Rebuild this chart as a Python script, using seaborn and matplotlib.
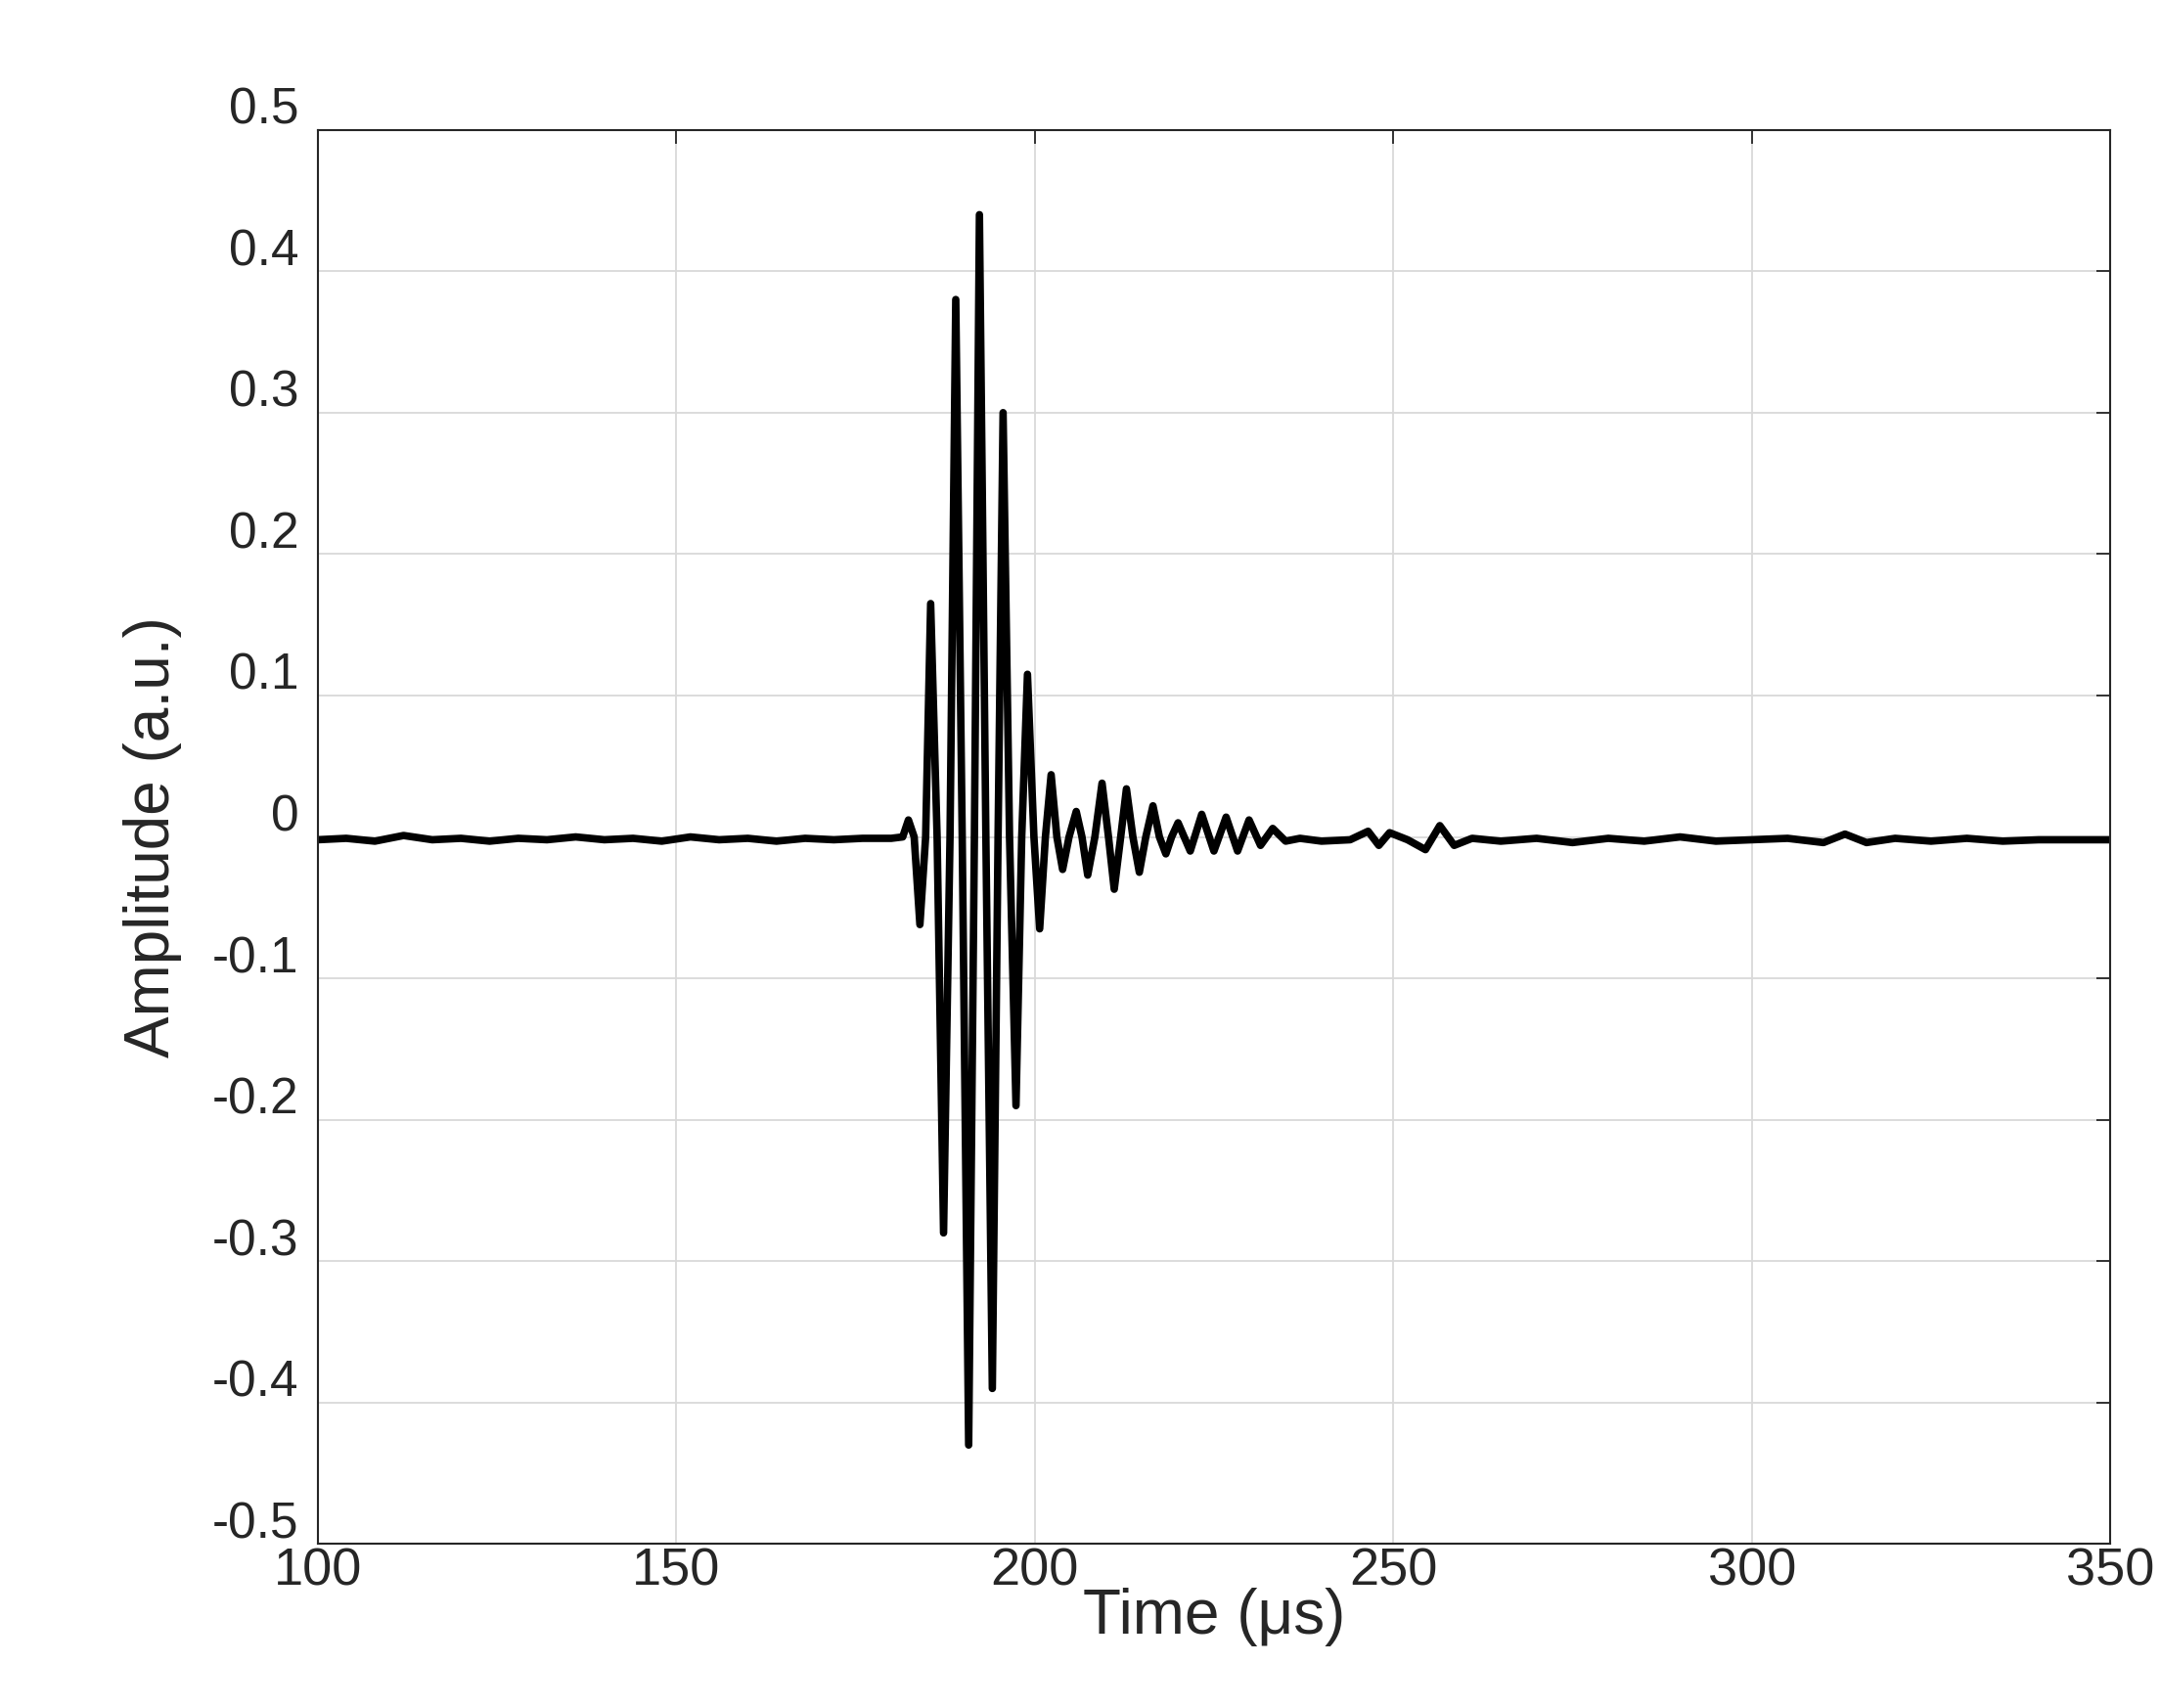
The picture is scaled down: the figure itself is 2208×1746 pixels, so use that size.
import matplotlib
matplotlib.use("Agg")
import matplotlib.pyplot as plt
import matplotlib.transforms as mtransforms
import seaborn as sns

time_us = [100, 104, 108, 112, 116, 120, 124, 128, 132, 136, 140, 144, 148, 152, 156,
           160, 164, 168, 172, 176, 180, 181.6, 182.4, 183.2, 184.0, 184.8, 185.5, 186.4,
           187.3, 188.2, 189.0, 189.9, 190.8, 191.6, 192.3, 193.2, 194.1, 194.9, 195.6,
           196.5, 197.4, 198.2, 199.0, 199.9, 200.7, 201.5, 202.3, 203.1, 203.9, 204.8,
           205.8, 206.6, 207.4, 208.4, 209.4, 210.3, 211.1, 212.0, 212.8, 213.7, 214.6,
           215.5, 216.5, 217.4, 218.3, 219.1, 220.0, 221.7, 223.3, 225.0, 226.7, 228.3,
           229.9, 231.5, 233.2, 235.0, 237, 240, 244, 246.5, 248, 249.5, 252, 254.5, 256.5,
           258.5, 261, 265, 270, 275, 280, 285, 290, 295, 300, 305, 310, 313, 316, 320,
           325, 330, 335, 340, 345, 350]
amplitude = [-0.002, -0.001, -0.003, 0.001, -0.002, -0.001, -0.003, -0.001, -0.002, 0.000,
             -0.002, -0.001, -0.003, 0.000, -0.002, -0.001, -0.003, -0.001, -0.002, -0.001,
             -0.001, 0.0, 0.012, 0.0, -0.062, 0.0, 0.165, 0.0, -0.28, 0.0, 0.38, 0.0, -0.43,
             0.0, 0.44, 0.0, -0.39, 0.0, 0.30, 0.0, -0.19, 0.0, 0.115, 0.0, -0.065, 0.0,
             0.044, 0.0, -0.023, 0.0, 0.018, 0.0, -0.027, 0.0, 0.038, 0.0, -0.037, 0.0, 0.034,
             0.0, -0.025, 0.0, 0.022, 0.0, -0.012, 0.0, 0.010, -0.010, 0.016, -0.010, 0.014,
             -0.010, 0.012, -0.006, 0.006, -0.003, -0.001, -0.003, -0.002, 0.004, -0.006,
             0.003, -0.002, -0.009, 0.008, -0.006, -0.001, -0.003, -0.001, -0.004, -0.001,
             -0.003, 0.000, -0.003, -0.002, -0.001, -0.004, 0.002, -0.004, -0.001, -0.003,
             -0.001, -0.003, -0.002, -0.002, -0.002]

x_ticks = [100, 150, 200, 250, 300, 350]
y_ticks = [0.5, 0.4, 0.3, 0.2, 0.1, 0, -0.1, -0.2, -0.3, -0.4, -0.5]
y_labels = ["0.5", "0.4", "0.3", "0.2", "0.1", "0", "-0.1", "-0.2", "-0.3", "-0.4", "-0.5"]

sns.set_style("white")
plt.rcParams["font.family"] = ["Liberation Sans", "DejaVu Sans"]

fig = plt.figure(figsize=(22.08, 17.46), dpi=100)
ax = fig.add_axes([0.147, 0.096, 0.83, 0.828])
sns.lineplot(x=time_us, y=amplitude, color="black", linewidth=5.5, ax=ax)
ax.set_xlim(100, 350)
ax.set_ylim(-0.5, 0.5)
ax.set_xticks(x_ticks)
ax.set_yticks(y_ticks)
ax.set_yticklabels(y_labels)
ax.grid(True, color="#d9d9d9", linewidth=1.3)
ax.tick_params(direction="in", length=10, width=1.3, top=True, right=True,
               labelsize=37, pad=14, colors="#262626")
ax.tick_params(axis="x", pad=2, labelsize=39)
# y labels sit a little above their ticks in the original
shift = mtransforms.ScaledTranslation(0, 0.25, fig.dpi_scale_trans)
for lab in ax.get_yticklabels():
    lab.set_transform(lab.get_transform() + shift)
for s in ax.spines.values():
    s.set_color("#262626")
    s.set_linewidth(1.5)
ax.set_xlabel("Time (μs)", fontsize=46, labelpad=-6)
ax.set_ylabel("Amplitude (a.u.)", fontsize=46, labelpad=22)
fig.savefig("out.png", dpi=100, facecolor="white")
